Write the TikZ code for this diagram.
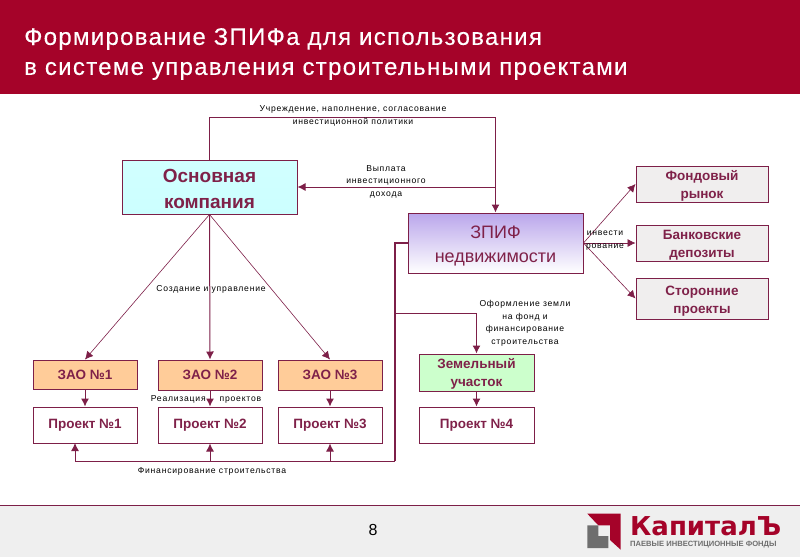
\documentclass[tikz,border=0pt]{standalone}
\usepackage{fontspec}
\setmainfont{Liberation Sans}
\newfontfamily\titlefont[LetterSpace=5.4,FakeBold=0.25]{Liberation Sans}
\newfontfamily\notefont[LetterSpace=9]{Liberation Sans}
\newfontfamily\logofont{DejaVu Sans}
\usetikzlibrary{arrows.meta}
\definecolor{bandred}{HTML}{A50329}
\definecolor{linered}{HTML}{7D1F48}
\definecolor{textred}{HTML}{7F2149}
\definecolor{greybox}{HTML}{F0EEEE}
\definecolor{footgrey}{HTML}{EFEFEF}
\definecolor{logogrey}{HTML}{6E6E6E}
\newcommand\pushd[1]{\rule{0pt}{#1pt}}
\tikzset{
  box/.style={draw=linered,line width=1pt,text=textred,font=\bfseries\fontsize{13.5}{18}\selectfont,align=center,inner sep=0pt},
  note/.style={font=\notefont\fontsize{8.6}{12.5}\selectfont,align=center,inner sep=0pt,text=black},
  conn/.style={draw=linered,line width=1pt},
  arr/.style={conn,-{Latex[length=8pt,width=8pt]}},
  thin arr/.style={draw=linered,line width=.6pt,-{Latex[length=8pt,width=8pt]}},
}
\begin{document}
\begin{tikzpicture}[x=1pt,y=-1pt]
            \useasboundingbox (0,0) rectangle (800,557);
            \fill[bandred] (0,0) rectangle (800,94);
            \fill[footgrey] (0,505) rectangle (800,557);
            \draw[linered,line width=.8pt] (0,505) -- (800,505);
            \node[text=white,anchor=west,align=left,inner sep=0pt,font=\titlefont\fontsize{24}{30}\selectfont] (title) at (24,54) {Формирование ЗПИФа для использования\\в системе управления строительными проектами};
            \node[font=\fontsize{16}{18}\selectfont,inner sep=0pt] (pagenum) at (373,530) {8};
            % main boxes
            \node[box,minimum width=175,minimum height=54,top color=cyan!18,bottom color=cyan!20,font=\bfseries\fontsize{19}{26}\selectfont] (osn) at (209.5,187) {\pushd{17}Основная\\компания};
            \node[box,minimum width=175,minimum height=60,top color=violet!45!blue!35!white,bottom color=white,font=\fontsize{18}{24}\selectfont] (zpif) at (495.5,243) {\pushd{19}ЗПИФ\\недвижимости};
            \node[box,minimum width=132,minimum height=36,fill=greybox] (fond) at (702,184) {\pushd{13}Фондовый\\рынок};
            \node[box,minimum width=132,minimum height=36,fill=greybox] (bank) at (702,243) {\pushd{13}Банковские\\депозиты};
            \node[box,minimum width=132,minimum height=41,fill=greybox] (other) at (702,298.5) {\pushd{14}Сторонние\\проекты};
            % lower rows
            \node[box,minimum width=104,minimum height=29,fill=orange!40!white] (zao1) at (85,374.5) {ЗАО №1};
            \node[box,minimum width=104,minimum height=30,fill=orange!40!white] (zao2) at (210,375) {ЗАО №2};
            \node[box,minimum width=104,minimum height=30,fill=orange!40!white] (zao3) at (330,375) {ЗАО №3};
            \node[box,minimum width=115,minimum height=37,fill=green!20!white] (land) at (476.5,372.5) {\pushd{13}Земельный\\участок};
            \node[box,minimum width=104,minimum height=36] (pr1) at (85,425) {Проект №1};
            \node[box,minimum width=104,minimum height=36] (pr2) at (210,425) {Проект №2};
            \node[box,minimum width=104,minimum height=36] (pr3) at (330,425) {Проект №3};
            \node[box,minimum width=115,minimum height=36] (pr4) at (476.5,425) {Проект №4};
            % connectors
            \draw[arr] (osn.north) -- ++(0,-42) -| (zpif.north);
            \draw[arr] (zpif.north |- osn.east) -- (osn.east);
            \draw[thin arr] (osn.south) -- (zao1.north);
            \draw[arr] (osn.south) -- (zao2.north);
            \draw[thin arr] (osn.south) -- (zao3.north);
            \draw[arr] (zao1) -- (pr1);
            \draw[arr] (zao2) -- (pr2);
            \draw[arr] (zao3) -- (pr3);
            \draw[arr] (land) -- (pr4);
            \draw[thin arr] (zpif.east) -- (fond.west);
            \draw[thin arr] (zpif.east) -- (bank.west);
            \draw[thin arr] (zpif.east) -- (other.west);
            \coordinate (trunk) at (395,461);
            \coordinate (branch) at (395,313);
            \draw[conn,line width=1.5pt] (zpif.west) -| (trunk);
            \draw[arr] (trunk) -- (75,461) -- (75,443);
            \draw[arr] (pr2.south |- trunk) -- (pr2.south);
            \draw[arr] (pr3.south |- trunk) -- (pr3.south);
            \draw[arr] (branch) -| (land.north);
            % labels
            \node[note,font=\notefont\fontsize{8.6}{13}\selectfont] (n1) at (353,116) {Учреждение, наполнение, согласование\\инвестиционной политики};
            \node[note] (n2) at (386,181.5) {Выплата\\инвестиционного\\дохода};
            \node[note] (n3) at (211,289) {Создание и управление};
            \node[note] (n4) at (206,399) {Реализация\hspace{14pt}проектов};
            \node[note,font=\notefont\fontsize{8.6}{13}\selectfont] (n5) at (605,240.5) {инвести\\рование};
            \node[note] (n6) at (525,323.5) {Оформление земли\\на фонд и\\финансирование\\строительства};
            \node[note] (n7) at (212,471.5) {Финансирование строительства};
            % logo
            \fill[bandred] (587.3,513.7) -- (620.5,513.7) -- (620.5,549.5) -- (610,540) -- (610,525.3) -- (598.3,525.3) -- cycle;
            \fill[logogrey] (587.3,525.3) -- (598.3,525.3) -- (598.3,536) -- (608.3,536) -- (608.3,548) -- (587.3,548) -- cycle;
            \node[text=bandred,anchor=base west,inner sep=0pt,font=\logofont\bfseries\fontsize{26}{26}\selectfont] (logo) at (630,535) {КапиталЪ};
            \node[text=logogrey,anchor=west,inner sep=0pt,font=\bfseries\fontsize{7.6}{9}\selectfont] (logosub) at (630,544.5) {ПАЕВЫЕ ИНВЕСТИЦИОННЫЕ ФОНДЫ};
\end{tikzpicture}
\end{document}
